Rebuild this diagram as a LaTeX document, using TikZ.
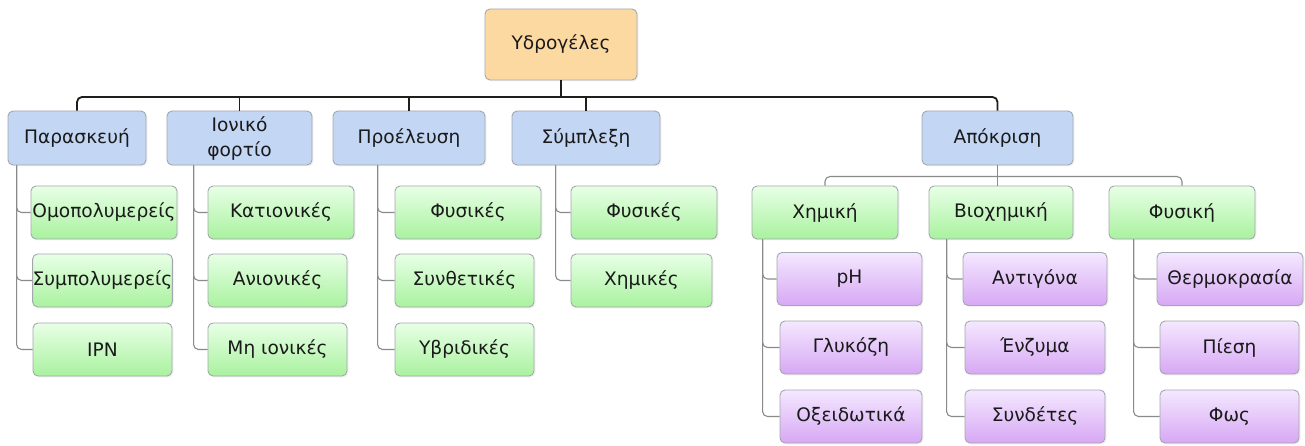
\documentclass[tikz,border=0pt]{standalone}
\usepackage{fontspec}
\setmainfont{DejaVu Sans}
\usetikzlibrary{shadows}

\definecolor{rootfill}{HTML}{FDD9A2}
\definecolor{catfill}{HTML}{C3D6F4}
\definecolor{leaftop}{HTML}{E8FFE6}
\definecolor{leafbot}{HTML}{A9F29F}
\definecolor{subtop}{HTML}{F4E8FF}
\definecolor{subbot}{HTML}{D7A8F4}
\definecolor{boxline}{HTML}{A3A7AE}
\definecolor{busline}{HTML}{1E1E1E}
\definecolor{linkgray}{HTML}{8A8A8A}
\definecolor{textdark}{HTML}{1A1A1A}

\begin{document}
\begin{tikzpicture}[x=1pt, y=-1pt,
	box/.style={draw=boxline, line width=0.9pt, rounded corners=5pt, inner sep=0pt,
		minimum height=53pt, align=center, text=textdark,
		font=\fontsize{18.6}{25}\selectfont,
		drop shadow={opacity=0.10, shadow xshift=1.5pt, shadow yshift=-1.5pt}},
	rootbox/.style={box, fill=rootfill, minimum height=71pt},
	catbox/.style={box, fill=catfill, minimum height=54pt},
	leafbox/.style={box, top color=leaftop, bottom color=leafbot},
	subbox/.style={box, top color=subtop, bottom color=subbot},
	bus/.style={line width=1.8pt, draw=busline, rounded corners=5pt},
	link/.style={line width=1.1pt, draw=linkgray, rounded corners=5pt}]
		\useasboundingbox (0,0) rectangle (1305,446);
		\coordinate (busY) at (0,97);
		\coordinate (subY) at (0,176.5);
		% top and first level
		\node[rootbox, minimum width=152pt] (root) at (561,44.5) {Υδρογέλες};
		\node[catbox, minimum width=138pt] (par) at (77,138)    {Παρασκευή};
		\node[catbox, minimum width=145pt] (ion) at (239.5,138) {Ιονικό\\φορτίο};
		\node[catbox, minimum width=152pt] (pro) at (409,138)   {Προέλευση};
		\node[catbox, minimum width=148pt] (sym) at (586,138)   {Σύμπλεξη};
		\node[catbox, minimum width=151pt] (apo) at (997.5,138) {Απόκριση};
		% leaves of the left branches
		\node[leafbox, minimum width=146pt] (omo) at (104,212.5)   {Ομοπολυμερείς};
		\node[leafbox, minimum width=139pt] (sim) at (102.5,280.5) {Συμπολυμερείς};
		\node[leafbox, minimum width=139pt] (ipn) at (102.5,349.5) {IPN};
		\node[leafbox, minimum width=146pt] (kat) at (281,212.5)   {Κατιονικές};
		\node[leafbox, minimum width=139pt] (ani) at (277.5,280.5) {Ανιονικές};
		\node[leafbox, minimum width=139pt] (mio) at (277.5,349.5) {Μη ιονικές};
		\node[leafbox, minimum width=146pt] (fys) at (468,212.5)   {Φυσικές};
		\node[leafbox, minimum width=139pt] (syn) at (464.5,280.5) {Συνθετικές};
		\node[leafbox, minimum width=139pt] (ybr) at (464.5,349.5) {Υβριδικές};
		\node[leafbox, minimum width=146pt] (sfy) at (644,212.5)   {Φυσικές};
		\node[leafbox, minimum width=141pt] (sxi) at (641.5,280.5) {Χημικές};
		% response branch
		\node[leafbox, minimum width=146pt] (xim) at (825,212.5)  {Χημική};
		\node[leafbox, minimum width=144pt] (bio) at (1001,212.5) {Βιοχημική};
		\node[leafbox, minimum width=146pt] (phy) at (1182,212.5) {Φυσική};
		\node[subbox, minimum width=145pt] (ph)  at (849.5,279)  {pH};
		\node[subbox, minimum width=142pt] (gly) at (851,347.5)  {Γλυκόζη};
		\node[subbox, minimum width=142pt] (oxe) at (851,416.5)  {Οξειδωτικά};
		\node[subbox, minimum width=144pt] (ant) at (1035,279)   {Αντιγόνα};
		\node[subbox, minimum width=140pt] (enz) at (1035,347.5) {Ένζυμα};
		\node[subbox, minimum width=140pt] (sde) at (1035,416.5) {Συνδέτες};
		\node[subbox, minimum width=146pt] (the) at (1230,279)   {Θερμοκρασία};
		\node[subbox, minimum width=139pt] (pie) at (1229.5,347.5) {Πίεση};
		\node[subbox, minimum width=139pt] (fos) at (1229.5,416.5) {Φως};
		% main bus
		\draw[bus] (par.north) |- (busY -| apo.north) -- (apo.north);
		\draw[bus] (root.south) -- (busY -| root.south);
		\draw[bus] (ion.north) -- (busY -| ion.north);
		\draw[bus] (pro.north) -- (busY -| pro.north);
		\draw[bus] (sym.north) -- (busY -| sym.north);
		% sub bus
		\draw[link] (xim.north) |- (subY -| phy.north) -- (phy.north);
		\draw[link] (apo.south) -- (apo.south |- bio.north);
		% trunks
		\draw[link] ([xshift=9pt]par.south west) |- (omo.west);
		\draw[link] ([xshift=9pt]par.south west) |- (sim.west);
		\draw[link] ([xshift=9pt]par.south west) |- (ipn.west);
		\draw[link] ([xshift=27pt]ion.south west) |- (kat.west);
		\draw[link] ([xshift=27pt]ion.south west) |- (ani.west);
		\draw[link] ([xshift=27pt]ion.south west) |- (mio.west);
		\draw[link] ([xshift=45pt]pro.south west) |- (fys.west);
		\draw[link] ([xshift=45pt]pro.south west) |- (syn.west);
		\draw[link] ([xshift=45pt]pro.south west) |- (ybr.west);
		\draw[link] ([xshift=44pt]sym.south west) |- (sfy.west);
		\draw[link] ([xshift=44pt]sym.south west) |- (sxi.west);
		\draw[link] ([xshift=11pt]xim.south west) |- (ph.west);
		\draw[link] ([xshift=11pt]xim.south west) |- (gly.west);
		\draw[link] ([xshift=11pt]xim.south west) |- (oxe.west);
		\draw[link] ([xshift=18pt]bio.south west) |- (ant.west);
		\draw[link] ([xshift=18pt]bio.south west) |- (enz.west);
		\draw[link] ([xshift=18pt]bio.south west) |- (sde.west);
		\draw[link] ([xshift=25pt]phy.south west) |- (the.west);
		\draw[link] ([xshift=25pt]phy.south west) |- (pie.west);
		\draw[link] ([xshift=25pt]phy.south west) |- (fos.west);
	\end{tikzpicture}
\end{document}
